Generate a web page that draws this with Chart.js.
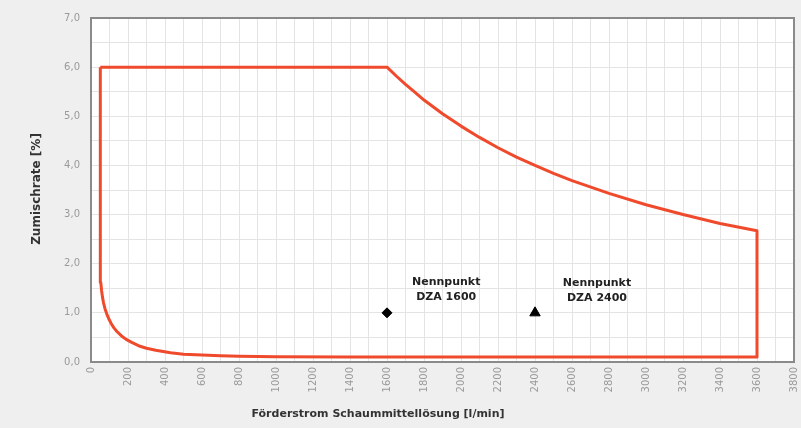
<!DOCTYPE html>
<html>
<head>
<meta charset="utf-8">
<script src="https://cdn.jsdelivr.net/npm/chart.js@4"></script>
<style>
html, body { margin:0; padding:0; background:#efefef; }
#wrap { width:801px; height:428px; }
</style>
</head>
<body>
<div id="wrap"><canvas id="chart" width="801" height="428"></canvas></div>
<script>
// outline of the working range
const flow = [50, 1600, 1650, 1700, 1750, 1800, 1900, 2000, 2100, 2200, 2300, 2400, 2500, 2600, 2800, 3000, 3200, 3400, 3600,
              3600, 1400, 1000, 800, 700, 600, 500, 430, 350, 300, 265, 220, 190, 165, 140, 123, 108, 96, 86, 76, 68, 62, 57, 53, 51, 50, 50]
const rate = [6.0, 6.0, 5.82, 5.65, 5.49, 5.33, 5.05, 4.8, 4.57, 4.36, 4.17, 4.0, 3.84, 3.69, 3.43, 3.2, 3.0, 2.82, 2.67,
              0.1, 0.1, 0.105, 0.115, 0.125, 0.14, 0.16, 0.19, 0.24, 0.28, 0.32, 0.4, 0.46, 0.53, 0.62, 0.7, 0.79, 0.88, 0.97, 1.08, 1.2, 1.32, 1.46, 1.62, 1.8, 2.0, 6.0]

// rated points
const nennFlow = [1600, 2400]
const nennRate = [1.0, 1.0]
const nennLabels = [["Nennpunkt", "DZA 1600"], ["Nennpunkt", "DZA 2400"]]
const labelFlow = [1920, 2735]
const labelRate = [1.62, 1.60]

const yTitle = "Zumischrate [%]"
const xTitle = "Förderstrom Schaummittellösung [l/min]"

const fmt = v => v.toFixed(1).replace(".", ",")

const boxPlugin = {
    id: "box",
    beforeDraw(chart){
        const c = chart.ctx
        const a = chart.chartArea
        c.save()
        c.fillStyle = "#efefef"
        c.fillRect(0, 0, chart.width, chart.height)
        c.fillStyle = "#ffffff"
        c.fillRect(a.left, a.top, a.right - a.left, a.bottom - a.top)
        c.restore()
    },
    afterDatasetsDraw(chart){
        const c = chart.ctx
        const a = chart.chartArea
        const xs = chart.scales.x
        const ys = chart.scales.y
        c.save()
        c.strokeStyle = "#8a8a8a"
        c.lineWidth = 2
        c.strokeRect(a.left, a.top, a.right - a.left, a.bottom - a.top)

        c.fillStyle = "#222"
        c.font = "bold 11px 'DejaVu Sans'"
        c.textAlign = "center"
        c.textBaseline = "middle"
        nennLabels.forEach((lines, i) => {
            const px = xs.getPixelForValue(labelFlow[i])
            const py = ys.getPixelForValue(labelRate[i])
            lines.forEach((t, j) => c.fillText(t, px, py + j * 15))
        })

        c.fillStyle = "#333"
        c.font = "bold 11px 'DejaVu Sans'"
        c.fillText(xTitle, 378, 414)
        c.font = "bold 12px 'DejaVu Sans'"
        c.translate(37, 189)
        c.rotate(-Math.PI / 2)
        c.fillText(yTitle, 0, 0)
        c.restore()
    }
}

new Chart(
    document.getElementById("chart"),
    {
        type:'scatter',
        data:{
            datasets:[
                {
                    label:'Bereich',
                    data:flow.map((x, i) => ({x:x, y:rate[i]})),
                    showLine:true,
                    borderColor:'#f04a2c',
                    borderWidth:3,
                    borderJoinStyle:'round',
                    pointRadius:0,
                    tension:0,
                    fill:false
                },
                {
                    label:'DZA 1600',
                    data:[{x:nennFlow[0], y:nennRate[0]}],
                    pointStyle:'rectRot',
                    pointRadius:5,
                    backgroundColor:'#000',
                    borderColor:'#000'
                },
                {
                    label:'DZA 2400',
                    data:[{x:nennFlow[1], y:nennRate[1]}],
                    pointStyle:'triangle',
                    pointRadius:6,
                    backgroundColor:'#000',
                    borderColor:'#000'
                }
            ]
        },
        options:{
            responsive:false,
            animation:false,
            layout:{ padding:{ top:18, right:4, left:0, bottom:0 } },
            plugins:{
                legend:{ display:false },
                tooltip:{ enabled:false }
            },
            scales:{
                x:{
                    type:'linear',
                    min:0,
                    max:3800,
                    afterFit(s){
                        s.height = 428 - 362
                        s.paddingLeft = 0
                        s.paddingRight = 0
                    },
                    afterUpdate(s){
                        // rotated end label pushes the plot in; stretch it back to the frame
                        s.right = 797
                        s.width = s.right - s.left
                        s._length = s.width
                    },
                    border:{ display:false },
                    grid:{ color:'#e4e4e4', lineWidth:1, drawTicks:false },
                    ticks:{
                        stepSize:100,
                        autoSkip:false,
                        minRotation:90,
                        maxRotation:90,
                        padding:5,
                        color:'#9a9a9a',
                        font:{ family:'DejaVu Sans', size:10 },
                        callback:v => v % 200 === 0 ? String(v) : ''
                    }
                },
                y:{
                    min:0,
                    max:7,
                    afterFit(s){
                        s.width = 91
                        s.paddingTop = 0
                        s.paddingBottom = 0
                    },
                    border:{ display:false },
                    grid:{ color:'#e4e4e4', lineWidth:1, drawTicks:false },
                    ticks:{
                        stepSize:0.5,
                        autoSkip:false,
                        padding:11,
                        color:'#9a9a9a',
                        font:{ family:'DejaVu Sans', size:10 },
                        callback:v => Number.isInteger(v) ? fmt(v) : ''
                    }
                }
            }
        },
        plugins:[boxPlugin]
    }
)
</script>
</body>
</html>
